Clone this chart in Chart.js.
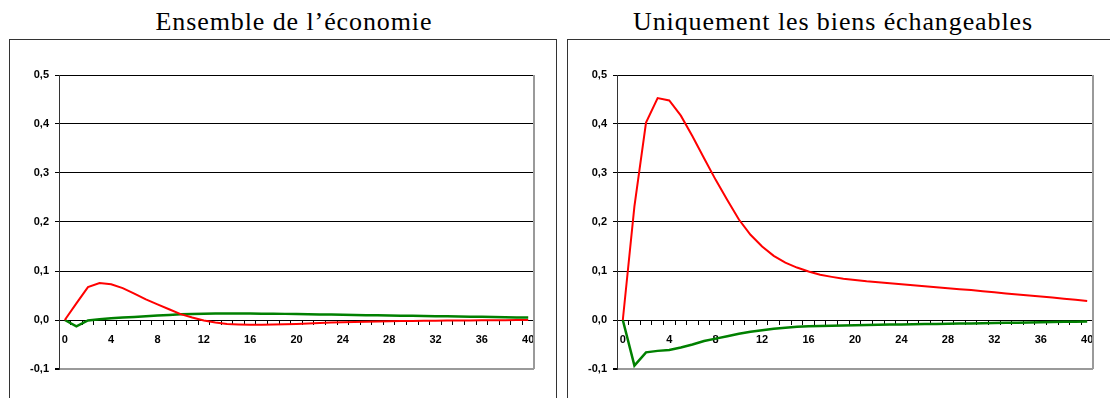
<!DOCTYPE html>
<html>
<head>
<meta charset="utf-8">
<script src="https://cdn.jsdelivr.net/npm/chart.js@4/dist/chart.umd.min.js"></script>
<style>
  html, body { margin: 0; padding: 0; background: #fff; }
  body { width: 1110px; height: 398px; position: relative; overflow: hidden; }
  .frame { position: absolute; border: 1px solid #333; box-sizing: border-box; }
  .title { position: absolute; top: 9px; font-family: "Liberation Serif", serif; font-size: 26px; line-height: 26px; letter-spacing: 0.9px; color: #000; white-space: nowrap; transform: translateX(-50%); }
  canvas { position: absolute; top: 0; }
</style>
</head>
<body>
<div class="frame" style="left:9px; top:39px; width:548px; height:400px;"></div>
<div class="frame" style="left:567px; top:39px; width:600px; height:400px;"></div>
<div class="title" style="left:294px;">Ensemble de l’économie</div>
<div class="title" style="left:833px;">Uniquement les biens échangeables</div>
<canvas id="c1" width="560" height="398" style="left:0;"></canvas>
<canvas id="c2" width="550" height="398" style="left:560px;"></canvas>
<script>
const periods = Array.from({length: 41}, (_, i) => String(i));
const yTicks = [-0.1, 0, 0.1, 0.2, 0.3, 0.4, 0.5];

const ensembleRed = [0, 0.034, 0.067, 0.0755, 0.073, 0.065, 0.054, 0.042, 0.032, 0.022,
  0.012, 0.005, -0.001, -0.005, -0.008, -0.009, -0.0095, -0.0095, -0.009, -0.0085,
  -0.008, -0.007, -0.006, -0.005, -0.0045, -0.004, -0.0035, -0.003, -0.0025, -0.002,
  -0.002, -0.0015, -0.0015, -0.001, -0.001, -0.001, -0.0005, -0.0005, -0.0005, 0, 0];
const ensembleGreen = [0, -0.013, -0.001, 0.0015, 0.0035, 0.005, 0.006, 0.0075, 0.009, 0.010,
  0.0115, 0.012, 0.013, 0.0135, 0.0135, 0.0135, 0.0133, 0.013, 0.0128, 0.0125,
  0.012, 0.0117, 0.0113, 0.011, 0.0105, 0.0102, 0.0098, 0.0095, 0.0091, 0.0088,
  0.0085, 0.0081, 0.0078, 0.0075, 0.0071, 0.0068, 0.0065, 0.0061, 0.0057, 0.0053, 0.005];
const echangeablesRed = [0, 0.232, 0.403, 0.453, 0.448, 0.417, 0.375, 0.330, 0.286, 0.245,
  0.205, 0.174, 0.150, 0.131, 0.117, 0.107, 0.099, 0.0925, 0.088, 0.084,
  0.0816, 0.079, 0.077, 0.075, 0.073, 0.071, 0.069, 0.067, 0.065, 0.063,
  0.061, 0.0587, 0.0565, 0.0543, 0.052, 0.050, 0.048, 0.0458, 0.0435, 0.0413, 0.039];
const echangeablesGreen = [0, -0.093, -0.066, -0.063, -0.061, -0.056, -0.050, -0.043, -0.038, -0.033,
  -0.028, -0.024, -0.021, -0.018, -0.016, -0.014, -0.013, -0.012, -0.0115, -0.011,
  -0.0105, -0.010, -0.0097, -0.0093, -0.009, -0.0086, -0.0083, -0.008, -0.0077, -0.0073,
  -0.007, -0.0066, -0.0062, -0.0058, -0.0054, -0.005, -0.0046, -0.0042, -0.0038, -0.0034, -0.003];

const tickFont = { family: '"Liberation Sans", Arial, sans-serif', size: 11, weight: 'bold' };

const plotFrame = {
  id: 'plotFrame',
  beforeDatasetsDraw(chart) {
    const { ctx, chartArea: a } = chart;
    ctx.save();
    ctx.strokeStyle = '#9a9a9a';
    ctx.lineWidth = 2;
    ctx.beginPath();
    ctx.moveTo(a.right, a.top);
    ctx.lineTo(a.right, a.bottom);
    ctx.stroke();
    ctx.restore();
  }
};

function makeChart(id, red, green, yWidth, padRight) {
  return new Chart(document.getElementById(id), {
    type: 'line',
    data: {
      labels: periods,
      datasets: [
        { data: red, borderColor: '#ff0000', borderWidth: 2, pointRadius: 0, tension: 0 },
        { data: green, borderColor: '#008000', borderWidth: 2.5, pointRadius: 0, tension: 0 }
      ]
    },
    options: {
      responsive: false,
      animation: false,
      devicePixelRatio: 1,
      layout: { padding: { left: 0, top: 75, right: padRight, bottom: 29 } },
      plugins: { legend: { display: false }, tooltip: { enabled: false }, title: { display: false } },
      scales: {
        x: {
          type: 'category',
          offset: true,
          position: { y: 0 },
          grid: { display: true, drawOnChartArea: false, drawTicks: true, tickLength: 4, offset: true, color: '#000', tickColor: '#000' },
          border: { display: true, color: '#000', width: 1 },
          ticks: {
            autoSkip: false, maxRotation: 0, minRotation: 0, padding: 9, color: '#000', font: tickFont,
            callback: (v, i) => (i % 4 === 0 ? periods[i] : '')
          }
        },
        y: {
          min: yTicks[0],
          max: yTicks[yTicks.length - 1],
          afterBuildTicks: s => { s.ticks = yTicks.map(v => ({ value: v })); },
          afterFit: s => { s.width = yWidth; },
          grid: {
            color: c => (c.tick && c.tick.value < -0.05 ? '#9a9a9a' : '#000'),
            lineWidth: c => (c.tick && c.tick.value < -0.05 ? 2 : 1),
            tickColor: '#000', tickLength: 4
          },
          border: { display: true, color: '#333', width: 1 },
          ticks: {
            padding: 6, color: '#000', font: tickFont,
            callback: v => v.toFixed(1).replace('.', ',')
          }
        }
      }
    },
    plugins: [plotFrame]
  });
}

makeChart('c1', ensembleRed, ensembleGreen, 59, 26);
makeChart('c2', echangeablesRed, echangeablesGreen, 57, 17);
</script>
</body>
</html>
